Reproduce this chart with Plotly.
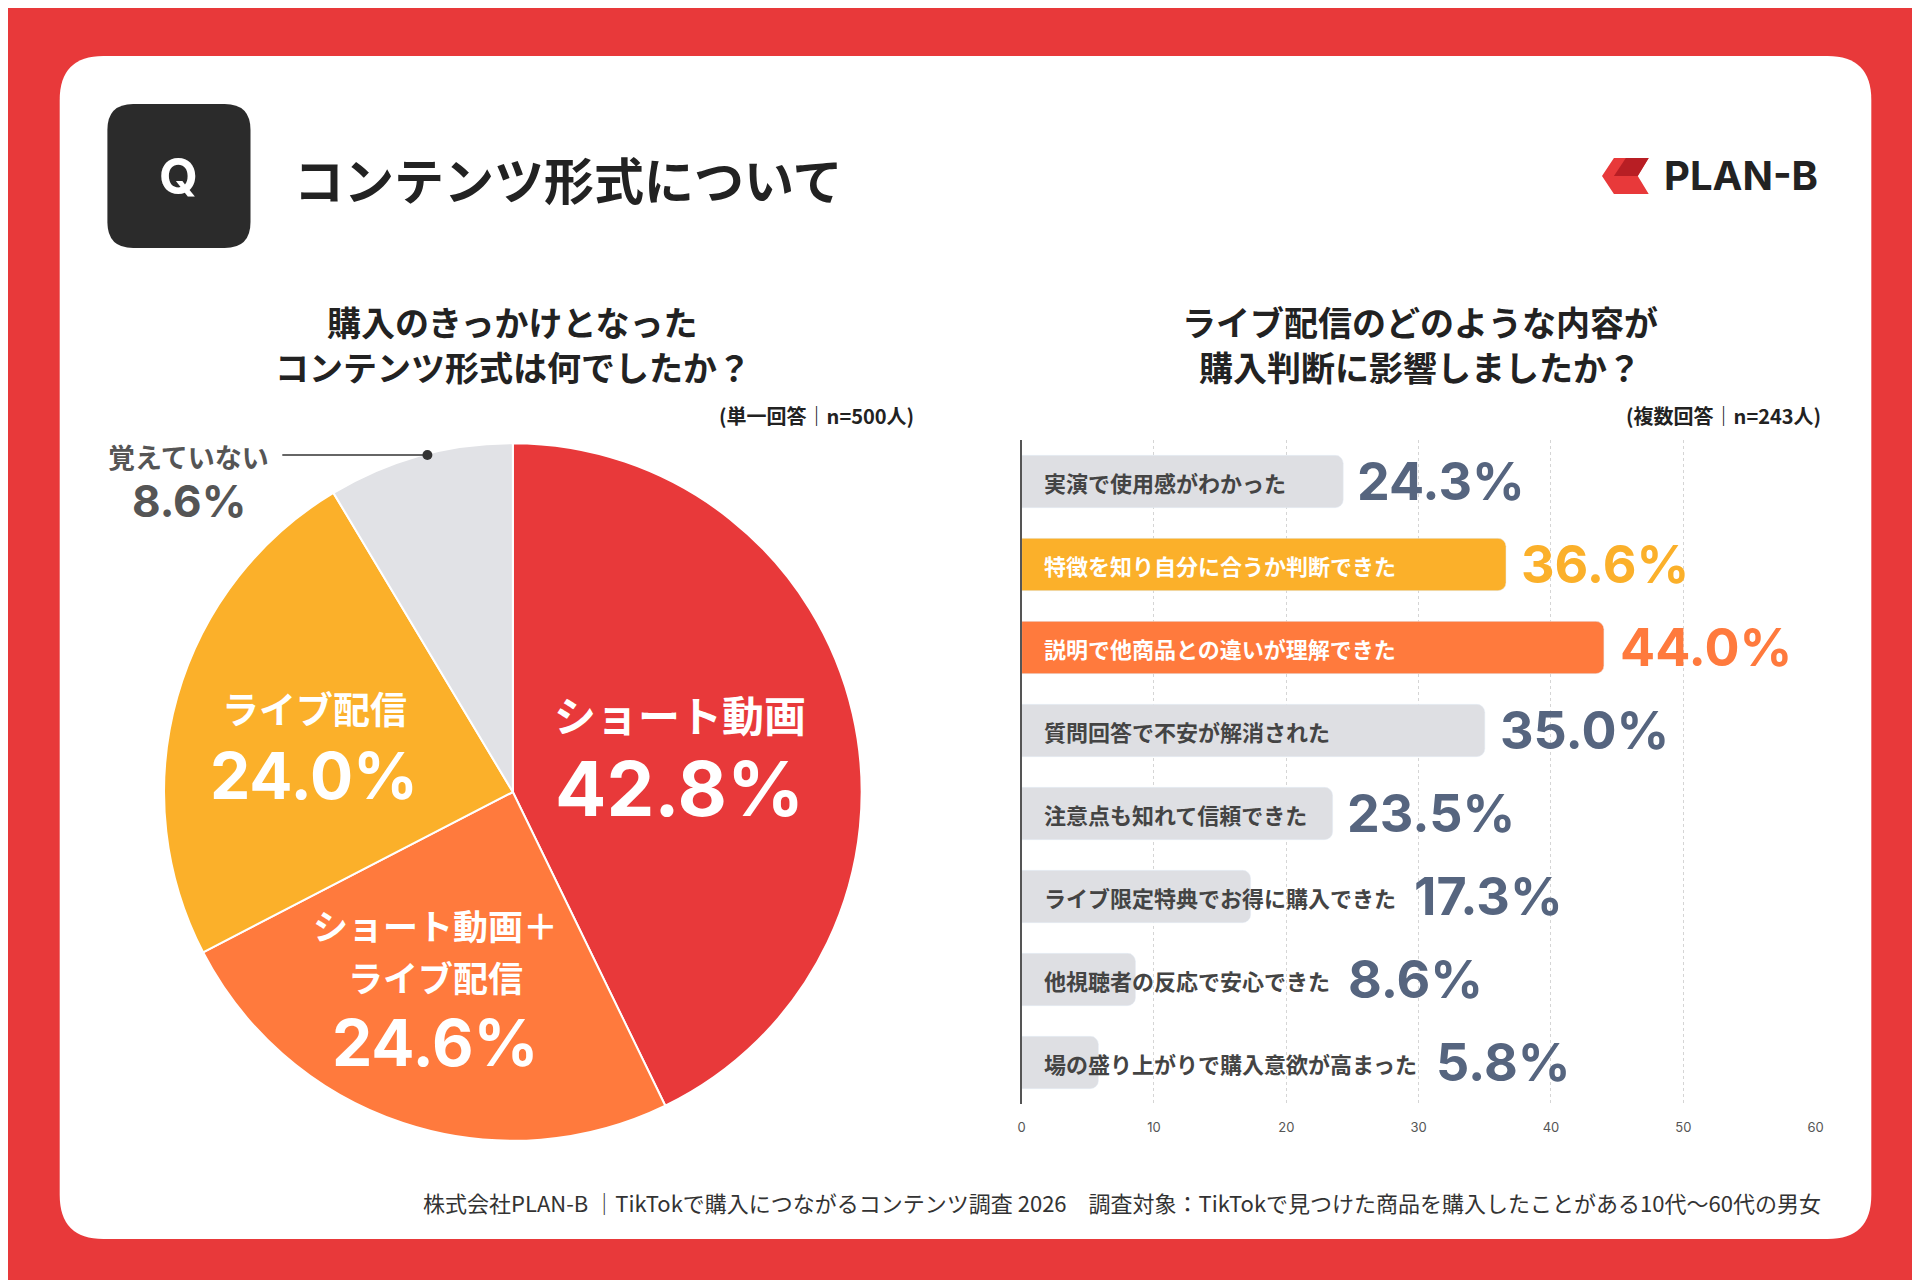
import plotly.graph_objects as go

W, H = 1920, 1280
pie_labels = ["ショート動画", "ショート動画＋ライブ配信", "ライブ配信", "覚えていない"]
pie_values = [42.8, 24.6, 24.0, 8.6]
pie_colors = ["#E8393A", "#FF7A3D", "#FBB02A", "#E1E2E6"]

bar_labels = ["実演で使用感がわかった", "特徴を知り自分に合うか判断できた", "説明で他商品との違いが理解できた",
              "質問回答で不安が解消された", "注意点も知れて信頼できた", "ライブ限定特典でお得に購入できた",
              "他視聴者の反応で安心できた", "場の盛り上がりで購入意欲が高まった"]
bar_values = [24.3, 36.6, 44.0, 35.0, 23.5, 17.3, 8.6, 5.8]
bar_colors = ["#DEDFE3", "#FBB02A", "#FF7A3D", "#DEDFE3", "#DEDFE3", "#DEDFE3", "#DEDFE3", "#DEDFE3"]
val_colors = ["#56657F", "#FBB02A", "#FF7A3D", "#56657F", "#56657F", "#56657F", "#56657F", "#56657F"]
lab_colors = ["#444444", "#FFFFFF", "#FFFFFF", "#444444", "#444444", "#444444", "#444444", "#444444"]
xticks = [0, 10, 20, 30, 40, 50, 60]

JP = "Noto Sans CJK JP"
NUM = "Inter, Noto Sans CJK JP"

def px(x): return x / W
def py(y): return 1 - y / H

AX0, AX1 = 1016, 1815
LABEL_SIZE = 22

fig = go.Figure()
fig.add_trace(go.Pie(values=pie_values, labels=pie_labels, sort=False, direction="clockwise",
                     rotation=0, marker=dict(colors=pie_colors, line=dict(color="white", width=2)),
                     textinfo="none", hoverinfo="label+percent", showlegend=False,
                     domain=dict(x=[px(153), px(855)], y=[py(1135), py(433)])))
fig.add_trace(go.Bar(x=bar_values, y=bar_labels, orientation="h", marker=dict(color=bar_colors),
                     showlegend=False, hoverinfo="x+y"))

def rrect(x0, y0, x1, y1, r):
    rx, ry = r / W, r / H
    X0, X1, Y0, Y1 = px(x0), px(x1), py(y1), py(y0)
    return (f"M {X0+rx},{Y0} L {X1-rx},{Y0} Q {X1},{Y0} {X1},{Y0+ry} L {X1},{Y1-ry} Q {X1},{Y1} {X1-rx},{Y1} "
            f"L {X0+rx},{Y1} Q {X0},{Y1} {X0},{Y1-ry} L {X0},{Y0+ry} Q {X0},{Y0} {X0+rx},{Y0} Z")

shapes = [
    dict(type="path", xref="paper", yref="paper", path=rrect(48, 48, 1871, 1231, 44), fillcolor="white", line=dict(width=0), layer="below"),
    dict(type="path", xref="paper", yref="paper", path=rrect(96, 96, 240, 240, 26), fillcolor="#2B2B2B", line=dict(width=0)),
    dict(type="line", xref="paper", yref="paper", x0=px(272), y0=py(447), x1=px(418), y1=py(447), line=dict(color="#333", width=1.5)),
    dict(type="circle", xref="paper", yref="paper", x0=px(413), y0=py(442), x1=px(423), y1=py(452), fillcolor="#333", line=dict(width=0)),
    dict(type="path", xref="paper", yref="paper",
         path=f"M {px(1612)},{py(150)} L {px(1647)},{py(150)} L {px(1636)},{py(168)} L {px(1647)},{py(186)} L {px(1612)},{py(186)} L {px(1600)},{py(168)} Z",
         fillcolor="#E8393A", line=dict(width=0)),
    dict(type="path", xref="paper", yref="paper",
         path=f"M {px(1624)},{py(150)} L {px(1647)},{py(150)} L {px(1636)},{py(168)} L {px(1612)},{py(168)} Z",
         fillcolor="#B81E24", line=dict(width=0)),
]

ann = []
def t(x, y, s, size, color="#222", font=JP, xa="center", ya="middle"):
    ann.append(dict(x=px(x), y=py(y), xref="paper", yref="paper", text=s, showarrow=False,
                    font=dict(size=size, color=color, family=font), xanchor=xa, yanchor=ya))

t(168, 168, "<b>Q</b>", 50, "white", NUM)
t(282, 170, "<b>コンテンツ形式について</b>", 50, "#222", JP, xa="left")
t(1660, 168, "<b>PLAN-B</b>", 40, "#222", NUM, xa="left")
t(504, 313, "<b>購入のきっかけとなった</b>", 34, "#222")
t(504, 358, "<b>コンテンツ形式は何でしたか？</b>", 34, "#222")
t(1417, 313, "<b>ライブ配信のどのような内容が</b>", 34, "#222")
t(1417, 358, "<b>購入判断に影響しましたか？</b>", 34, "#222")
t(910, 407, "<b>(単一回答｜n=500人)</b>", 20, "#222", xa="right")
t(1822, 407, "<b>(複数回答｜n=243人)</b>", 20, "#222", xa="right")
t(672, 705, "<b>ショート動画</b>", 42, "white")
t(672, 780, "<b>42.8%</b>", 76, "white", NUM)
t(304, 700, "<b>ライブ配信</b>", 37, "white")
t(304, 767, "<b>24.0%</b>", 64, "white", NUM)
t(426, 916, "<b>ショート動画＋</b>", 35, "white")
t(426, 968, "<b>ライブ配信</b>", 35, "white")
t(426, 1034, "<b>24.6%</b>", 64, "white", NUM)
t(178, 448, "<b>覚えていない</b>", 27, "#555")
t(178, 493, "<b>8.6%</b>", 44, "#555", NUM)
t(1822, 1194, "株式会社PLAN-B ｜TikTokで購入につながるコンテンツ調査 2026　調査対象：TikTokで見つけた商品を購入したことがある10代〜60代の男女", 22, "#333", xa="right")

for lab, v, lc, vc in zip(bar_labels, bar_values, lab_colors, val_colors):
    ann.append(dict(x=0, y=lab, xref="x", yref="y", text=f"<b>{lab}</b>", showarrow=False, xanchor="left",
                    xshift=20, font=dict(size=LABEL_SIZE, color=lc, family=JP)))
    bar_px = v / 60 * (AX1 - AX0)
    label_end = 20 + len(lab) * LABEL_SIZE + 8
    shift = max(bar_px, label_end) + 10
    ann.append(dict(x=0, y=lab, xref="x", yref="y", text=f"<b>{v:.1f}%</b>", showarrow=False, xanchor="left",
                    xshift=shift, font=dict(size=52, color=vc, family=NUM)))

fig.update_layout(
    width=W, height=H, margin=dict(l=0, r=0, t=0, b=0), paper_bgcolor="#E8393A", plot_bgcolor="rgba(0,0,0,0)",
    shapes=shapes, annotations=ann, bargap=0.37, barcornerradius=8,
    xaxis=dict(domain=[px(AX0), px(AX1)], range=[0, 60], tickvals=xticks, showgrid=True, gridcolor="#D5D5D5",
               griddash="dot", zeroline=False, tickfont=dict(size=13, color="#555", family=NUM), ticks="",
               ticklabelstandoff=14, fixedrange=True),
    yaxis=dict(domain=[py(1096), py(432)], autorange="reversed", showticklabels=False, showline=True,
               linecolor="#555", linewidth=1.5, showgrid=False, ticks=""),
)
fig.write_html("out.html")
